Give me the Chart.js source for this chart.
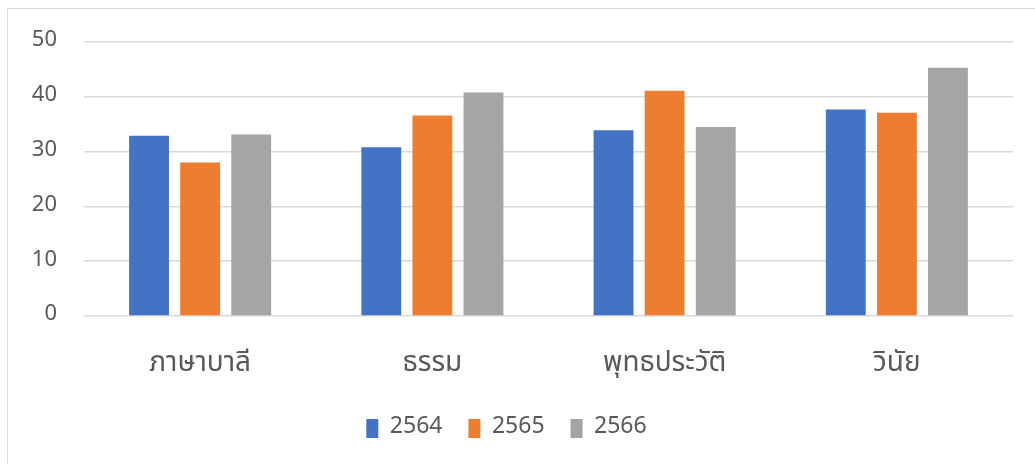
<!DOCTYPE html>
<html>
<head>
<meta charset="utf-8">
<script src="https://cdn.jsdelivr.net/npm/chart.js@4"></script>
<style>
  html, body { margin: 0; padding: 0; background: #fff; overflow: hidden; }
  #wrap { position: relative; width: 1035px; height: 464px; }
  #frame { position: absolute; left: 7px; top: 8px; width: 1040px; height: 470px; border: 1.5px solid #d9d9d9; box-sizing: border-box; }
  canvas { position: absolute; left: 0; top: 0; }
</style>
</head>
<body>
<div id="wrap">
  <div id="frame"></div>
  <canvas id="salesBarChart" width="1035" height="464"></canvas>
</div>
<script>
const categories = ['ภาษาบาลี', 'ธรรม', 'พุทธประวัติ', 'วินัย'];
const years = ['2564', '2565', '2566'];
const values2564 = [32.9, 30.8, 33.9, 37.7];
const values2565 = [28.0, 36.6, 41.1, 37.1];
const values2566 = [33.1, 40.8, 34.5, 45.3];
const yTicks = [0, 10, 20, 30, 40, 50];

const colors = ['#4472c4', '#ed7d31', '#a5a5a5'];
const fontFamily = '"Noto Sans Thai", "Noto Sans", "Open Sans", sans-serif';

const barEl = document.getElementById('salesBarChart');

new Chart(barEl, {
  type: 'bar',
  data: {
    labels: categories,
    datasets: [values2564, values2565, values2566].map((vals, i) => ({
      label: years[i],
      data: vals,
      backgroundColor: colors[i],
      borderWidth: 0,
      barPercentage: 0.78,
      categoryPercentage: 0.66,
    })),
  },
  options: {
    responsive: false,
    animation: false,
    devicePixelRatio: 1,
    layout: {
      autoPadding: false,
      padding: { top: 42, right: 22, bottom: 14, left: 0 },
    },
    plugins: {
      legend: {
        position: 'bottom',
        labels: {
          color: '#595959',
          font: { family: fontFamily, size: 23 },
          boxWidth: 12,
          boxHeight: 19,
          padding: 26,
        },
      },
      tooltip: { enabled: false },
    },
    scales: {
      x: {
        afterFit: (scale) => {
          scale.height = 75;
        },
        grid: { display: false, drawTicks: false },
        border: { display: false },
        ticks: {
          color: '#595959',
          font: { family: fontFamily, size: 28 },
          padding: 33,
        },
      },
      y: {
        min: 0,
        max: 50,
        afterBuildTicks: (scale) => {
          scale.ticks = yTicks.map((v) => ({ value: v }));
        },
        afterFit: (scale) => {
          scale.width = 84;
        },
        grid: { color: '#d9d9d9', lineWidth: 1.5, drawTicks: false },
        border: { display: false },
        ticks: {
          color: '#595959',
          font: { family: fontFamily, size: 22 },
          padding: 27,
        },
      },
    },
  },
});
</script>
</body>
</html>
